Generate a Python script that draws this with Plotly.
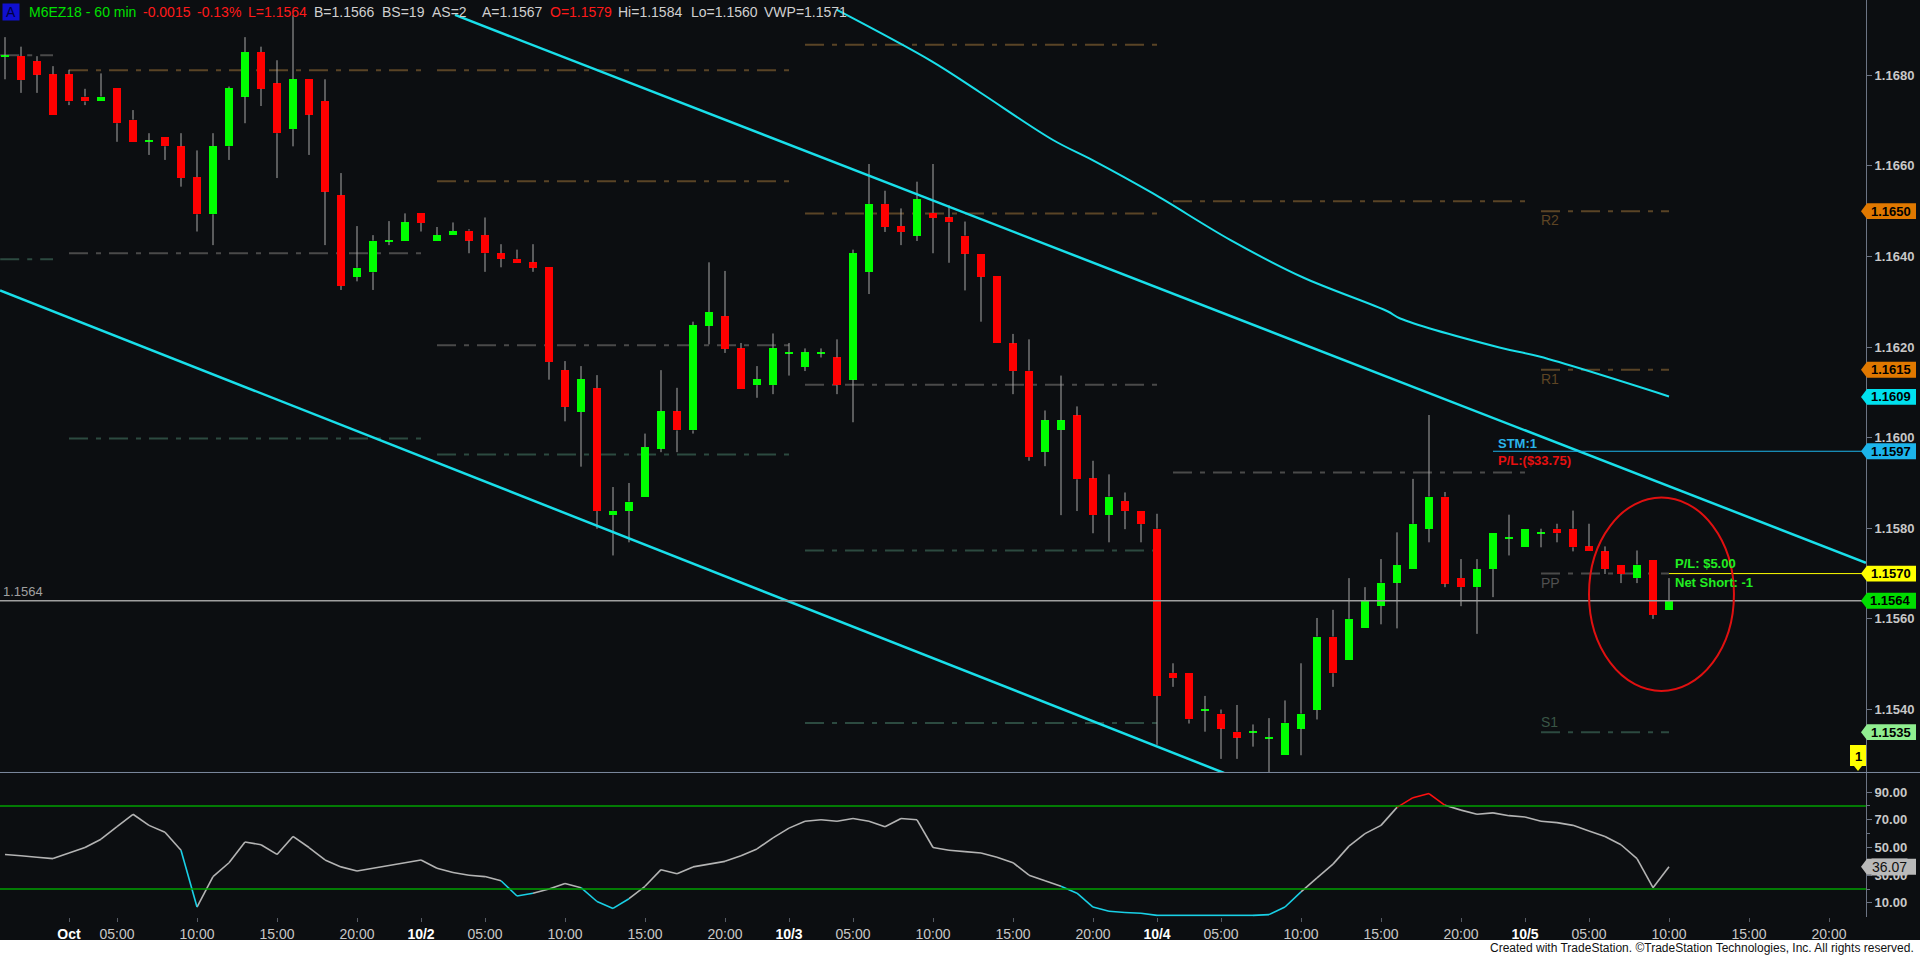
import plotly.graph_objects as go

# ---------------- data ----------------
open_ = [1.16841,1.16842,1.16831,1.16802,1.16802,1.16753,1.16742,1.16771,1.16702,1.16654,
         1.16663,1.16643,1.16575,1.16493,1.16643,1.16753,1.16851,1.16782,1.16681,1.16791,
         1.16743,1.16535,1.16355,1.16365,1.16434,1.16435,1.16495,1.16435,1.16447,1.16457,
         1.16447,1.16407,1.16395,1.16387,1.16376,1.16149,1.16057,1.16109,1.15829,1.15838,
         1.15869,1.15976,1.16058,1.16016,1.16247,1.16268,1.16197,1.16116,1.16116,1.16187,
         1.16156,1.16187,1.16177,1.16128,1.16366,1.16516,1.16467,1.16446,1.16496,1.16486,
         1.16446,1.16406,1.16356,1.16208,1.16148,1.15969,1.16017,1.16049,1.15910,1.15829,
         1.15860,1.15839,1.15799,1.15481,1.15481,1.15399,1.15391,1.15351,1.15350,1.15338,
         1.15299,1.15358,1.15399,1.15561,1.15509,1.15579,1.15629,1.15680,1.15710,1.15799,
         1.15870,1.15690,1.15670,1.15710,1.15778,1.15758,1.15789,1.15799,1.15799,1.15760,
         1.15749,1.15720,1.15690,1.15730,1.15620]
high = [1.16884,1.16863,1.16842,1.16820,1.16812,1.16770,1.16804,1.16771,1.16723,1.16672,
        1.16663,1.16672,1.16634,1.16672,1.16775,1.16884,1.16863,1.16833,1.16933,1.16791,
        1.16791,1.16584,1.16467,1.16447,1.16478,1.16495,1.16495,1.16465,1.16475,1.16460,
        1.16486,1.16427,1.16415,1.16427,1.16376,1.16169,1.16158,1.16138,1.15891,1.15900,
        1.16009,1.16149,1.16110,1.16256,1.16387,1.16368,1.16209,1.16158,1.16230,1.16209,
        1.16197,1.16197,1.16217,1.16415,1.16604,1.16545,1.16506,1.16565,1.16604,1.16513,
        1.16477,1.16406,1.16356,1.16229,1.16217,1.16060,1.16137,1.16069,1.15949,1.15919,
        1.15879,1.15839,1.15832,1.15502,1.15481,1.15430,1.15400,1.15410,1.15367,1.15381,
        1.15420,1.15502,1.15602,1.15620,1.15690,1.15670,1.15732,1.15791,1.15909,1.16050,
        1.15880,1.15732,1.15732,1.15790,1.15830,1.15799,1.15799,1.15810,1.15839,1.15810,
        1.15760,1.15720,1.15751,1.15730,1.15690]
low = [1.16791,1.16761,1.16761,1.16713,1.16734,1.16734,1.16742,1.16653,1.16653,1.16624,
       1.16613,1.16554,1.16455,1.16425,1.16613,1.16694,1.16732,1.16573,1.16643,1.16624,
       1.16425,1.16326,1.16345,1.16326,1.16425,1.16435,1.16455,1.16435,1.16447,1.16407,
       1.16366,1.16376,1.16386,1.16366,1.16128,1.16036,1.15936,1.15799,1.15740,1.15769,
       1.15869,1.15968,1.15968,1.16009,1.16206,1.16187,1.16108,1.16088,1.16096,1.16137,
       1.16147,1.16177,1.16096,1.16034,1.16317,1.16454,1.16425,1.16434,1.16407,1.16386,
       1.16325,1.16256,1.16208,1.16096,1.15949,1.15937,1.15829,1.15838,1.15789,1.15769,
       1.15798,1.15769,1.15322,1.15450,1.15369,1.15351,1.15291,1.15291,1.15318,1.15261,
       1.15299,1.15299,1.15378,1.15450,1.15509,1.15579,1.15588,1.15579,1.15710,1.15769,
       1.15670,1.15628,1.15567,1.15648,1.15740,1.15758,1.15758,1.15769,1.15749,1.15749,
       1.15699,1.15679,1.15679,1.15600,1.15620]
close = [1.16843,1.16789,1.16801,1.16713,1.16742,1.16742,1.16753,1.16694,1.16653,1.16655,
         1.16643,1.16573,1.16493,1.16643,1.16771,1.16851,1.16770,1.16672,1.16791,1.16713,
         1.16543,1.16335,1.16375,1.16435,1.16436,1.16475,1.16474,1.16447,1.16456,1.16435,
         1.16407,1.16395,1.16386,1.16375,1.16167,1.16068,1.16129,1.15838,1.15839,1.15859,
         1.15979,1.16058,1.16016,1.16248,1.16277,1.16196,1.16108,1.16129,1.16197,1.16188,
         1.16188,1.16188,1.16116,1.16407,1.16516,1.16465,1.16454,1.16526,1.16485,1.16475,
         1.16406,1.16355,1.16208,1.16147,1.15957,1.16038,1.16038,1.15908,1.15829,1.15870,
         1.15838,1.15809,1.15430,1.15469,1.15378,1.15400,1.15358,1.15338,1.15351,1.15339,
         1.15371,1.15391,1.15561,1.15480,1.15600,1.15640,1.15680,1.15719,1.15810,1.15870,
         1.15678,1.15670,1.15710,1.15790,1.15779,1.15799,1.15790,1.15789,1.15758,1.15749,
         1.15710,1.15699,1.15720,1.15609,1.15640]
bars = list(range(len(close)))

osc = [45,44,43,42,46,50,56,65,74,66,61,48,7,29,39,54,52,45,58,50,
       41,36,33,35,37,39,41,35,32,30,29,26,15,17,20,24,21,11,6,13,
       22,34,31,36,38,40,44,49,57,64,69,70,69,71,69,65,71,70,50,48,
       47,46,43,39,30,26,22,17,7,4,3,2.5,1,1,1,1,1,1,1,1.5,
       7,18,28,38,51,60,66,79,86,89,80.5,77,74,75,73,72,69,68,66,62,
       58,52,42,21,36.07]
osc_ob, osc_os = 80, 20

tick_idx = [4,7,12,17,22,26,30,35,40,45,49,53,58,63,68,72,76,81,86,91,95,99,104,109,114]
tick_txt = ['Oct','05:00','10:00','15:00','20:00','10/2','05:00','10:00','15:00','20:00',
            '10/3','05:00','10:00','15:00','20:00','10/4','05:00','10:00','15:00','20:00',
            '10/5','05:00','10:00','15:00','20:00']

price_ticks = [1.1540,1.1560,1.1580,1.1600,1.1620,1.1640,1.1660,1.1680]
osc_ticks = [10,30,50,70,90]

# pivot segments (first bar, last bar, levels, kinds)
piv_start = [-0.3, 4, 27, 50, 73, 96]
piv_end = [3, 26, 49, 72, 95, 104]
piv_levels = [[1.16844, 1.16394],
              [1.16811, 1.16407, 1.15998],
              [1.16811, 1.16566, 1.16204, 1.15963],
              [1.16867, 1.16495, 1.16117, 1.15751, 1.15370],
              [1.16522, 1.15923],
              [1.1650, 1.1615, 1.1570, 1.1535]]
piv_kinds = [['P','S'], ['R','P','S'], ['R','R','P','S'], ['R','R','P','S','S'],
             ['R','P'], ['R','R','P','S']]
piv_names = ['R2', 'R1', 'PP', 'S1']

upper_ch_x = [28.125, 116.31]
upper_ch_y = [1.16933, 1.15724]
lower_ch_x = [-0.31, 76.19]
lower_ch_y = [1.16325, 1.15260]

band_x = [52, 57.9, 60.9, 65.5, 68, 71.75, 76.6, 81.1, 86.4, 87.2, 93.4, 95.9, 104]
band_y = [1.16944, 1.16831, 1.16763, 1.16657, 1.16612, 1.16539, 1.16436, 1.16354,
          1.16279, 1.16263, 1.16199, 1.16179, 1.16091]

last_price = 1.1564
entry_price = 1.1570
stop_price = 1.1597
stop_start = 93.0
ell_x = [99.0, 108.06]
ell_y = [1.15441, 1.15868]
position_count = '1'

badges = [(1.1650, '#e07800'), (1.1615, '#e07800'), (1.1609, '#00e0ee'),
          (1.1597, '#1cb4ea'), (1.1570, '#ffff00'), (1.1564, '#00dd00'),
          (1.1535, '#90ee90')]

# ---------------- style constants ----------------
BG = '#0c0e11'
GREEN = '#00ff00'
RED = '#ff0000'
WICK = '#a8a8a8'
CYAN = '#19dfea'
AX = '#6c7484'
LBL = '#c8c8c8'
FONT = 'Liberation Sans, Arial, sans-serif'
XMIN, XMAX = -0.3125, 116.3125
PLOT_W = 1866.0
PLOT_H = 917.0

fig = go.Figure()

# wicks (upper and lower parts, not crossing the body)
wx, wy = [], []
for i, o, h, l, c in zip(bars, open_, high, low, close):
    top, bot = max(o, c), min(o, c)
    wx += [i, i, None, i, i, None]
    wy += [h, top, None, bot, l, None]
fig.add_trace(go.Scatter(x=wx, y=wy, mode='lines', line=dict(color=WICK, width=1),
                         hoverinfo='skip', showlegend=False, xaxis='x', yaxis='y'))

MINB = 0.00003
for up, col in ((True, GREEN), (False, RED)):
    xs, bs, hs = [], [], []
    for i, o, c in zip(bars, open_, close):
        if (c >= o) == up:
            xs.append(i)
            lo_, hi_ = min(o, c), max(o, c)
            hgt = max(hi_ - lo_, MINB)
            mid = (lo_ + hi_) / 2
            bs.append(mid - hgt / 2)
            hs.append(hgt)
    fig.add_trace(go.Bar(x=xs, y=hs, base=bs, width=0.56, marker=dict(color=col, line=dict(width=0)),
                         showlegend=False, hoverinfo='skip', xaxis='x', yaxis='y'))

# channel lines and band curve
fig.add_trace(go.Scatter(x=upper_ch_x, y=upper_ch_y, mode='lines', line=dict(color=CYAN, width=2.5),
                         showlegend=False, hoverinfo='skip', xaxis='x', yaxis='y'))
fig.add_trace(go.Scatter(x=lower_ch_x, y=lower_ch_y, mode='lines', line=dict(color=CYAN, width=2.5),
                         showlegend=False, hoverinfo='skip', xaxis='x', yaxis='y'))
fig.add_trace(go.Scatter(x=band_x, y=band_y, mode='lines', line=dict(color=CYAN, width=2, shape='spline'),
                         showlegend=False, hoverinfo='skip', xaxis='x', yaxis='y'))

# oscillator: each segment coloured by the bar it leads to
seg = {'#b4b4b4': ([], []), '#ff1010': ([], []), '#19d0e6': ([], [])}
for i in range(1, len(osc)):
    v = osc[i]
    col = '#ff1010' if v > osc_ob else ('#19d0e6' if v < osc_os else '#b4b4b4')
    seg[col][0].extend([bars[i - 1], bars[i], None])
    seg[col][1].extend([osc[i - 1], osc[i], None])
for col, (sx, sy) in seg.items():
    fig.add_trace(go.Scatter(x=sx, y=sy, mode='lines', line=dict(color=col, width=1.6),
                             showlegend=False, hoverinfo='skip', xaxis='x2', yaxis='y2'))

shapes = []
annotations = []

# pivot dashed lines
kind_col = {'R': '#5a4426', 'P': '#4a4a4a', 'S': '#2c4a40'}
for s, e, levs, kinds in zip(piv_start, piv_end, piv_levels, piv_kinds):
    for lv, k in zip(levs, kinds):
        shapes.append(dict(type='line', xref='x', yref='y', x0=s, x1=e, y0=lv, y1=lv, layer='below',
                           line=dict(color=kind_col[k], width=2, dash='19px,8px,5px,8px')))
last_levels = piv_levels[-1]
last_kinds = piv_kinds[-1]
for lv, k, nm in zip(last_levels, last_kinds, piv_names):
    below = k != 'S'
    annotations.append(dict(x=piv_start[-1], y=lv, xref='x', yref='y', text=nm, showarrow=False,
                            xanchor='left', yanchor='top' if below else 'bottom',
                            yshift=1 if below else 0, xshift=-2,
                            font=dict(family=FONT, size=14,
                                      color={'R': '#5e4524', 'P': '#505050', 'S': '#3a5646'}[k])))

# horizontal lines
shapes.append(dict(type='line', xref='x', yref='y', x0=XMIN, x1=XMAX, y0=last_price, y1=last_price,
                   line=dict(color='#a0a0a0', width=1.5)))
shapes.append(dict(type='line', xref='x', yref='y', x0=bars[-1], x1=XMAX, y0=entry_price, y1=entry_price,
                   line=dict(color='#ffff00', width=1)))
shapes.append(dict(type='line', xref='x', yref='y', x0=stop_start, x1=XMAX, y0=stop_price, y1=stop_price,
                   line=dict(color='#1cb4ea', width=1)))
# ellipse
shapes.append(dict(type='circle', xref='x', yref='y', x0=ell_x[0], x1=ell_x[1], y0=ell_y[0], y1=ell_y[1],
                   line=dict(color='#e01010', width=2)))
# oscillator levels
for lv in (osc_ob, osc_os):
    shapes.append(dict(type='line', xref='paper', yref='y2', x0=0, x1=1, y0=lv, y1=lv,
                       line=dict(color='#00a000', width=1.5)))
# pane separator
shapes.append(dict(type='line', xref='paper', yref='paper', x0=0, x1=1920 / PLOT_W, y0=0.1576, y1=0.1576,
                   line=dict(color='#7d8aa0', width=1)))
# bottom white strip
shapes.append(dict(type='rect', xref='paper', yref='paper', x0=-0.01, x1=1.04, y0=-0.05, y1=-23 / PLOT_H,
                   fillcolor='white', line=dict(width=0), layer='below'))

# right badges
def px(p):
    return p / PLOT_W

def py(p):
    return (PLOT_H - p) / PLOT_H

for val, col in badges:
    hh = 0.000175
    path = (f'M {px(1861)},{val} L {px(1867)},{val + hh} L {px(1916)},{val + hh} '
            f'L {px(1916)},{val - hh} L {px(1867)},{val - hh} Z')
    shapes.append(dict(type='path', xref='paper', yref='y', path=path, fillcolor=col,
                       line=dict(width=0), layer='above'))
    annotations.append(dict(x=px(1891), y=val, xref='paper', yref='y', text=f'{val:.4f}', showarrow=False,
                            xanchor='center', yanchor='middle',
                            font=dict(family=FONT, size=13, color='black', weight='bold')))
# oscillator badge
ov = osc[-1]
oh = 5.8
shapes.append(dict(type='path', xref='paper', yref='y2',
                   path=f'M {px(1861)},{ov} L {px(1867)},{ov + oh} L {px(1916)},{ov + oh} '
                        f'L {px(1916)},{ov - oh} L {px(1867)},{ov - oh} Z',
                   fillcolor='#b9b9b9', line=dict(width=0), layer='above'))
annotations.append(dict(x=px(1889), y=ov, xref='paper', yref='y2', text=f'{ov:.2f}', showarrow=False,
                        xanchor='center', yanchor='middle', bgcolor='#b9b9b9', borderpad=0,
                        font=dict(family=FONT, size=14, color='#111111')))
# position marker
shapes.append(dict(type='path', xref='paper', yref='paper',
                   path=f'M {px(1850)},{py(745)} L {px(1866)},{py(745)} L {px(1866)},{py(766)} '
                        f'L {px(1862)},{py(766)} L {px(1858)},{py(771)} L {px(1854)},{py(766)} '
                        f'L {px(1850)},{py(766)} Z',
                   fillcolor='#ffff00', line=dict(width=0), layer='above'))
annotations.append(dict(x=px(1858), y=py(756), xref='paper', yref='paper', text=position_count,
                        showarrow=False, xanchor='center', yanchor='middle',
                        font=dict(family=FONT, size=13, color='black', weight='bold')))

# left last price label
annotations.append(dict(x=0, y=last_price, xref='paper', yref='y', text=f'{last_price:.4f}', showarrow=False,
                        xanchor='left', yanchor='bottom', xshift=1, yshift=0,
                        font=dict(family=FONT, size=13, color='#a0a0a0')))

# strategy texts
annotations.append(dict(x=stop_start + 0.2, y=1.15987, xref='x', yref='y', text='<b>STM:1</b>', showarrow=False,
                        xanchor='left', yanchor='middle', font=dict(family=FONT, size=13, color='#2ab4ea')))
annotations.append(dict(x=stop_start + 0.2, y=1.15949, xref='x', yref='y', text='<b>P/L:($33.75)</b>',
                        showarrow=False, xanchor='left', yanchor='middle',
                        font=dict(family=FONT, size=13, color='#e81010')))
annotations.append(dict(x=bars[-1] + 0.25, y=1.15722, xref='x', yref='y', text='<b>P/L: $5.00</b>',
                        showarrow=False, xanchor='left', yanchor='middle',
                        font=dict(family=FONT, size=13, color='#22ee22')))
annotations.append(dict(x=bars[-1] + 0.25, y=1.15680, xref='x', yref='y', text='<b>Net Short: -1</b>',
                        showarrow=False, xanchor='left', yanchor='middle',
                        font=dict(family=FONT, size=13, color='#22ee22')))

# header
hdr_y = py(12)
header = [(2, ' A ', '#000044', '#1010d0'),
          (27, 'M6EZ18 - 60 min', '#00e000', None),
          (141, '-0.0015', '#ff1a1a', None),
          (195, '-0.13%', '#ff1a1a', None),
          (246, 'L=1.1564', '#ff1a1a', None),
          (312, 'B=1.1566', '#d0d0d0', None),
          (380, 'BS=19', '#d0d0d0', None),
          (430, 'AS=2', '#d0d0d0', None),
          (480, 'A=1.1567', '#d0d0d0', None),
          (548, 'O=1.1579', '#ff1a1a', None),
          (616, 'Hi=1.1584', '#d0d0d0', None),
          (689, 'Lo=1.1560', '#d0d0d0', None),
          (762, 'VWP=1.1571', '#d0d0d0', None)]
for xx, tt, cc, bg in header:
    a = dict(x=px(xx), y=hdr_y, xref='paper', yref='paper', text=tt, showarrow=False,
             xanchor='left', yanchor='middle', font=dict(family=FONT, size=14, color=cc))
    if bg:
        a['bgcolor'] = bg
        a['borderpad'] = 0
    annotations.append(a)

# copyright
annotations.append(dict(x=px(1916), y=py(948), xref='paper', yref='paper',
                        text='Created with TradeStation. ©TradeStation Technologies, Inc. All rights reserved.',
                        showarrow=False, xanchor='right', yanchor='middle',
                        font=dict(family=FONT, size=12, color='#111111')))

tick_html = []
for t in tick_txt:
    if ':' in t:
        tick_html.append(f'<span style="color:#c8c8c8">{t}</span>')
    else:
        tick_html.append(f'<span style="color:#ffffff"><b>{t}</b></span>')

fig.update_layout(
    width=1920, height=957,
    margin=dict(l=0, r=1920 - int(PLOT_W), t=0, b=40),
    paper_bgcolor=BG, plot_bgcolor=BG,
    barmode='overlay', bargap=0,
    showlegend=False,
    shapes=shapes, annotations=annotations,
    xaxis=dict(domain=[0, 1], range=[XMIN, XMAX], showticklabels=False, showgrid=False, zeroline=False,
               ticks='', anchor='y', fixedrange=True),
    yaxis=dict(domain=[0.1581, 1], range=[1.15262, 1.16966], side='right', showgrid=False, zeroline=False,
               tickvals=price_ticks, ticktext=[f'{v:.4f}' for v in price_ticks],
               tickfont=dict(family=FONT, size=13, color=LBL, weight='bold'),
               ticks='outside', ticklen=5, tickcolor=AX, showline=True, linecolor=AX, linewidth=1,
               anchor='x'),
    xaxis2=dict(domain=[0, 1], range=[XMIN, XMAX], showgrid=False, zeroline=False, anchor='y2',
                tickvals=tick_idx, ticktext=tick_html, ticks='outside', ticklen=4, tickcolor='#555a63',
                tickfont=dict(family=FONT, size=14, color=LBL), tickangle=0),
    yaxis2=dict(domain=[0, 0.1570], range=[-0.2, 103.8], side='right', showgrid=False, zeroline=False,
                tickvals=osc_ticks, ticktext=[f'{v:.2f}' for v in osc_ticks],
                tickfont=dict(family=FONT, size=13, color=LBL, weight='bold'),
                ticks='outside', ticklen=5, tickcolor=AX, showline=True, linecolor=AX, linewidth=1,
                minor=dict(tickvals=[20, 40, 60, 80], ticks='outside', ticklen=3, tickcolor=AX),
                anchor='x2'),
)

fig.write_html('out.html', config={'displayModeBar': False},
               post_script="document.body.style.margin='0px';document.body.style.overflow='hidden';"
                           "document.documentElement.style.overflow='hidden';")
